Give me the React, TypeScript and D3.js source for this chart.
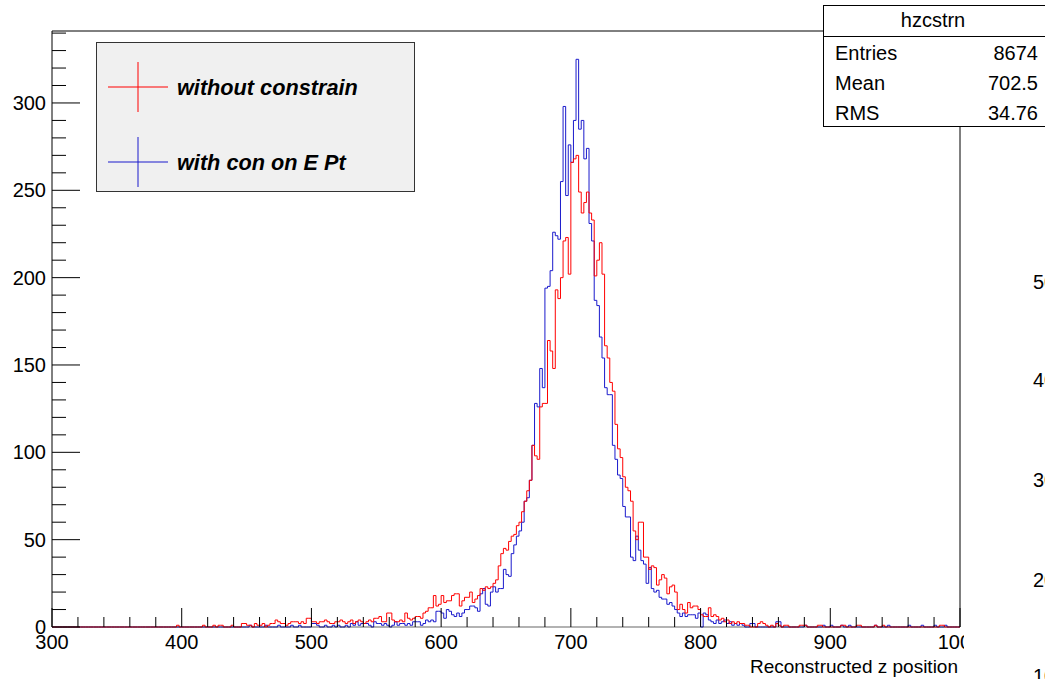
import React from "react";
import * as d3 from "d3";

// 2-unit bins from 300 to 1000 (350 bins)
const binStart = 300;
const binWidth = 2;

const redCounts: number[] = [
  0,0,0,0,0,0,0,0,0,0,
  0,0,0,0,0,0,0,0,0,0,
  0,0,0,0,0,0,0,0,0,0,
  0,0,0,0,0,0,0,0,0,0,
  0,0,0,0,0,0,0,0,1,0,
  0,0,0,0,0,0,0,0,1,0,
  0,0,1,0,1,1,0,0,0,1,
  0,0,0,2,2,1,1,0,2,1,
  1,2,0,1,2,2,4,3,2,2,
  1,2,3,3,3,2,3,2,5,5,
  3,3,2,3,3,4,3,2,2,3,
  3,4,3,2,3,4,2,3,4,3,
  2,3,4,3,5,5,6,3,3,8,
  8,4,3,3,4,3,8,5,4,5,
  6,6,5,8,9,11,11,18,12,13,
  18,14,15,15,18,19,19,12,15,17,
  17,20,14,16,18,22,21,23,22,23,
  25,27,35,42,45,44,49,52,53,58,
  60,66,72,78,84,104,98,96,126,128,
  128,164,158,148,193,188,200,221,223,202,
  266,268,270,249,237,243,249,237,233,201,
  210,220,202,161,154,140,135,116,102,97,
  86,80,78,72,55,50,60,60,40,40,
  33,35,34,24,27,30,28,19,23,24,
  20,10,13,10,8,14,11,12,12,10,
  7,6,6,11,6,7,6,4,5,3,
  4,2,3,2,3,2,2,1,1,0,
  0,0,2,3,2,1,0,1,0,2,
  1,0,1,1,0,0,0,0,1,1,
  1,0,0,0,0,1,1,0,0,0,
  0,0,0,0,1,1,0,0,0,0,
  1,1,0,0,0,0,0,1,0,0,
  1,0,0,0,0,0,0,0,0,0,
  0,0,0,0,0,0,0,0,0,0,
  0,0,1,1,0,0,0,0,0,0,
];

const blueCounts: number[] = [
  0,0,0,0,0,0,0,0,0,0,
  0,0,0,0,0,0,0,0,0,0,
  0,0,0,0,0,0,0,0,0,0,
  0,0,0,0,0,0,0,0,0,0,
  0,0,0,0,0,0,0,0,0,0,
  0,0,0,0,0,0,0,0,0,0,
  0,0,0,0,0,0,0,0,0,0,
  0,0,0,0,0,0,1,0,0,0,
  0,0,1,0,0,0,0,1,0,0,
  0,0,1,0,0,1,0,0,0,0,
  2,2,1,0,0,1,0,0,1,0,
  1,0,0,1,0,2,1,3,1,2,
  2,2,1,0,3,2,2,1,2,1,
  0,1,3,1,2,2,1,2,1,3,
  3,3,1,2,4,3,4,3,9,9,
  8,5,10,9,7,6,8,6,8,10,
  10,12,12,11,9,19,22,13,12,20,
  23,20,22,22,33,30,29,42,47,52,
  55,60,72,74,84,104,128,126,148,137,
  194,195,204,226,224,222,255,298,247,276,
  266,290,325,285,290,268,274,231,221,187,
  184,166,154,137,133,133,104,96,87,85,
  69,63,63,40,38,52,44,38,36,25,
  34,22,20,21,17,16,16,13,14,12,
  10,8,6,8,6,7,7,7,5,8,
  0,8,7,4,3,2,4,2,3,4,
  2,3,1,2,1,2,1,0,0,2,
  2,0,0,0,0,0,0,0,0,3,
  3,0,0,0,0,0,0,0,0,0,
  1,0,0,0,0,0,0,1,0,0,
  1,0,0,0,1,0,0,1,0,0,
  0,0,0,0,0,0,0,1,0,0,
  0,0,1,0,0,0,0,0,0,0,
  1,0,0,0,0,1,0,0,0,0,
  1,0,0,0,1,0,0,0,0,0,
];

const xMajorTicks = [300, 400, 500, 600, 700, 800, 900, 1000];
const yMajorTicks = [0, 50, 100, 150, 200, 250, 300];
const legendLabels = ["without constrain", "with con on E Pt"];
const legendColors = ["#ff0000", "#1a1acc"];
const statsTitle = "hzcstrn";
const statsNames = ["Entries", "Mean", "RMS"];
const statsValues = ["8674", "702.5", "34.76"];
const sideLabels = ["50", "40", "30", "20", "10"];
const xTitle = "Reconstructed z position";

const W = 1045;
const H = 679;
const FONT = "'Liberation Sans', Arial, Helvetica, sans-serif";

export default function App() {
  const x = d3.scaleLinear().domain([300, 1000]).range([52, 960]);
  const y = d3.scaleLinear().domain([0, 341.2]).range([627, 31]);

  const stepPath = (counts: number[]) => {
    const pts: [number, number][] = [[x(binStart), y(0)]];
    counts.forEach((c, i) => {
      const a = binStart + i * binWidth;
      pts.push([x(a), y(c)]);
      pts.push([x(a + binWidth), y(c)]);
    });
    pts.push([x(binStart + counts.length * binWidth), y(0)]);
    return d3.line()(pts) || "";
  };

  const xMinor = d3.range(300, 1001, 20).filter((v) => v % 100 !== 0);
  const yMinor = d3.range(0, 341, 10).filter((v) => v % 50 !== 0);
  const sideY = [282, 380, 480, 580, 676];

  return (
    <svg width={W} height={H} style={{ position: "absolute", left: 0, top: 0, background: "#fff" }}
      fontFamily={FONT}>
      <rect x={0} y={0} width={W} height={H} fill="#fff" />
      {/* histograms */}
      <path d={stepPath(blueCounts)} fill="none" stroke={legendColors[1]} strokeWidth={1} />
      <path d={stepPath(redCounts)} fill="none" stroke={legendColors[0]} strokeWidth={1} />

      {/* frame */}
      <line x1={52} y1={31} x2={960} y2={31} stroke="#000" strokeWidth={1} />
      <line x1={960} y1={31} x2={960} y2={627} stroke="#000" strokeWidth={1} />
      <line x1={52} y1={31} x2={52} y2={627} stroke="#000" strokeWidth={1} />
      <line x1={52} y1={627} x2={960} y2={627} stroke="#000" strokeWidth={1} opacity={0.6} />

      {/* y ticks */}
      {yMajorTicks.map((t) => (
        <g key={"ym" + t}>
          <line x1={52} x2={80} y1={y(t)} y2={y(t)} stroke="#000" strokeWidth={1} />
          <text x={46} y={y(t) + 7} textAnchor="end" fontSize={20}>{t}</text>
        </g>
      ))}
      {yMinor.map((t) => (
        <line key={"yn" + t} x1={52} x2={66} y1={y(t)} y2={y(t)} stroke="#000" strokeWidth={1} />
      ))}

      {/* x ticks */}
      {xMajorTicks.map((t) => (
        <g key={"xm" + t}>
          <line x1={x(t)} x2={x(t)} y1={627} y2={608} stroke="#000" strokeWidth={1} />
          <text x={x(t)} y={649} textAnchor="middle" fontSize={20}>{t}</text>
        </g>
      ))}
      {xMinor.map((t) => (
        <line key={"xn" + t} x1={x(t)} x2={x(t)} y1={627} y2={617} stroke="#000" strokeWidth={1} />
      ))}

      <text x={958} y={673} textAnchor="end" fontSize={19}>{xTitle}</text>

      {/* covering pad on the right */}
      <rect x={964} y={128} width={90} height={560} fill="#fff" />
      {sideLabels.map((s, i) => (
        <text key={s} x={1033} y={sideY[i] + 7} fontSize={20}>{s}</text>
      ))}

      {/* legend */}
      <rect x={96.5} y={42.5} width={318} height={149} fill="#f0f0f0" stroke="#333" strokeWidth={1} />
      {legendLabels.map((lab, i) => {
        const cy = 87 + i * 75;
        return (
          <g key={lab}>
            <line x1={108} x2={168} y1={cy} y2={cy} stroke={legendColors[i]} strokeWidth={1} />
            <line x1={138} x2={138} y1={cy - 25} y2={cy + 25} stroke={legendColors[i]} strokeWidth={1} />
            <text x={177} y={cy + 8} fontSize={21.7} fontWeight="bold" fontStyle="italic">{lab}</text>
          </g>
        );
      })}

      {/* stats box */}
      <rect x={823.5} y={5.5} width={240} height={121} fill="#fff" stroke="#000" strokeWidth={1} />
      <line x1={823.5} x2={1045} y1={36.5} y2={36.5} stroke="#000" strokeWidth={1} />
      <text x={933} y={27} textAnchor="middle" fontSize={20}>{statsTitle}</text>
      {statsNames.map((n, i) => (
        <g key={n}>
          <text x={835} y={60 + i * 30} fontSize={20}>{n}</text>
          <text x={1038} y={60 + i * 30} textAnchor="end" fontSize={20}>{statsValues[i]}</text>
        </g>
      ))}
    </svg>
  );
}
